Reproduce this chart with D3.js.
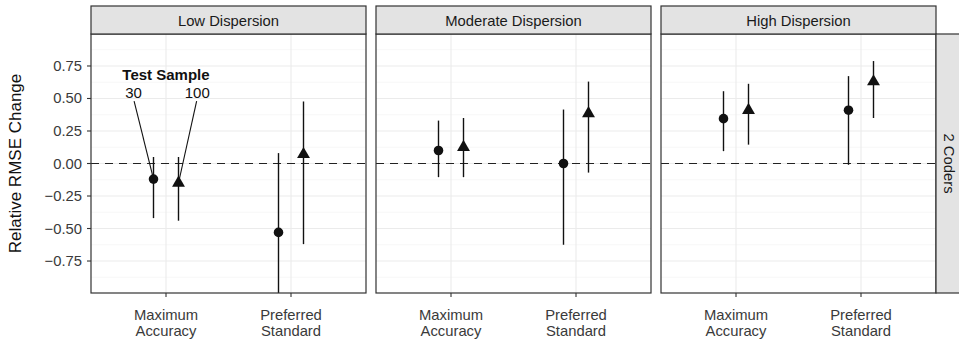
<!DOCTYPE html>
<html>
<head>
<meta charset="utf-8">
<script src="https://cdnjs.cloudflare.com/ajax/libs/d3/7.8.5/d3.min.js"></script>
<style>
  body { margin: 0; background: #fff; }
  text { font-family: "Liberation Sans", Arial, sans-serif; }
</style>
</head>
<body>
<div id="chart"></div>
<script>
// facets, categories and series
const panels = ['Low Dispersion', 'Moderate Dispersion', 'High Dispersion'];
const categories = ['Maximum Accuracy', 'Preferred Standard'];
const samples = ['30', '100'];
const yTicks = [-0.75, -0.5, -0.25, 0, 0.25, 0.5, 0.75];

// estimates per panel: [MA, PS]
const est30 = [[-0.12, -0.53], [0.10, 0.00], [0.345, 0.41]];
const lo30 = [[-0.42, -1.00], [-0.105, -0.625], [0.095, -0.01]];
const hi30 = [[0.05, 0.08], [0.33, 0.415], [0.556, 0.672]];
const est100 = [[-0.15, 0.07], [0.125, 0.385], [0.41, 0.63]];
const lo100 = [[-0.44, -0.62], [-0.105, -0.07], [0.145, 0.35]];
const hi100 = [[0.05, 0.477], [0.35, 0.63], [0.613, 0.788]];

const W = 959, H = 344;
const margin = { left: 91, top: 34, bottom: 51 };
const panelW = 275, gap = 10, stripH = 28;
const plotH = H - margin.top - margin.bottom;
const fs = 14.8;

const svg = d3.select('#chart').append('svg')
  .attr('width', W).attr('height', H);

const y = d3.scaleLinear().domain([-0.996, 0.996]).range([margin.top + plotH, margin.top]);
const x = d3.scaleLinear().domain([0.4, 2.6]).range([0, panelW]);
const dodge = { '30': -0.1, '100': 0.1 };

const minor = d3.range(-0.875, 0.9, 0.25);

panels.forEach((name, p) => {
  const g = svg.append('g').attr('transform', `translate(${margin.left + p * (panelW + gap)},0)`);

  // grid
  g.selectAll('.minor').data(minor).join('line')
    .attr('x1', 0).attr('x2', panelW)
    .attr('y1', d => y(d)).attr('y2', d => y(d))
    .attr('stroke', '#f2f2f2').attr('stroke-width', 0.6);
  g.selectAll('.major').data(yTicks).join('line')
    .attr('x1', 0).attr('x2', panelW)
    .attr('y1', d => y(d)).attr('y2', d => y(d))
    .attr('stroke', '#ebebeb').attr('stroke-width', 1.1);
  g.selectAll('.vgrid').data([1, 2]).join('line')
    .attr('x1', d => x(d)).attr('x2', d => x(d))
    .attr('y1', margin.top).attr('y2', margin.top + plotH)
    .attr('stroke', '#ebebeb').attr('stroke-width', 1.1);

  // reference line
  g.append('line')
    .attr('x1', 0).attr('x2', panelW)
    .attr('y1', y(0)).attr('y2', y(0))
    .attr('stroke', '#222').attr('stroke-width', 1.1)
    .attr('stroke-dasharray', '8,6');

  // error bars and points
  const rows = [];
  categories.forEach((c, i) => {
    rows.push({ s: '30', i, e: est30[p][i], lo: lo30[p][i], hi: hi30[p][i] });
    rows.push({ s: '100', i, e: est100[p][i], lo: lo100[p][i], hi: hi100[p][i] });
  });
  const clip = v => Math.max(y.domain()[0], v);
  g.selectAll('.err').data(rows).join('line')
    .attr('x1', d => x(d.i + 1 + dodge[d.s])).attr('x2', d => x(d.i + 1 + dodge[d.s]))
    .attr('y1', d => y(clip(d.lo))).attr('y2', d => y(d.hi))
    .attr('stroke', '#111').attr('stroke-width', 1.4);
  g.selectAll('.pt').data(rows).join('path')
    .attr('transform', d => `translate(${x(d.i + 1 + dodge[d.s])},${y(d.e)})`)
    .attr('d', d => d.s === '30'
      ? d3.symbol(d3.symbolCircle, 72)()
      : d3.symbol(d3.symbolTriangle, 72)())
    .attr('fill', '#111');

  // panel border
  g.append('rect')
    .attr('x', 0).attr('y', margin.top).attr('width', panelW).attr('height', plotH)
    .attr('fill', 'none').attr('stroke', '#333').attr('stroke-width', 1.2);

  // strip
  g.append('rect')
    .attr('x', 0).attr('y', margin.top - stripH).attr('width', panelW).attr('height', stripH)
    .attr('fill', '#e3e3e3').attr('stroke', '#333').attr('stroke-width', 1.2);
  g.append('text')
    .attr('x', panelW / 2).attr('y', margin.top - stripH / 2 + 5.5)
    .attr('text-anchor', 'middle').attr('font-size', fs).attr('fill', '#1a1a1a')
    .text(name);

  // x axis
  const xa = g.append('g').attr('transform', `translate(0,${margin.top + plotH})`);
  categories.forEach((c, i) => {
    xa.append('line').attr('x1', x(i + 1)).attr('x2', x(i + 1))
      .attr('y1', 0).attr('y2', 4).attr('stroke', '#333').attr('stroke-width', 1.1);
    const words = c.split(' ');
    words.forEach((w, k) => {
      xa.append('text').attr('x', x(i + 1)).attr('y', 27 + k * 16)
        .attr('text-anchor', 'middle').attr('font-size', fs).attr('fill', '#3a3a3a')
        .text(w);
    });
  });

  if (p === 0) {
    // y axis
    const ya = g.append('g');
    yTicks.forEach(t => {
      ya.append('line').attr('x1', -4).attr('x2', 0)
        .attr('y1', y(t)).attr('y2', y(t)).attr('stroke', '#333').attr('stroke-width', 1.1);
      ya.append('text').attr('x', -9).attr('y', y(t) + 5)
        .attr('text-anchor', 'end').attr('font-size', fs).attr('fill', '#3a3a3a')
        .text(d3.format('.2f')(t).replace('-', '\u2212'));
    });

    // annotation
    const lbl = [{ t: '30', xv: 0.74, yv: 0.5, s: '30', tx: 0.745, ty: 0.48 },
                 { t: '100', xv: 1.25, yv: 0.5, s: '100', tx: 1.245, ty: 0.48 }];
    g.append('text').attr('x', x(1)).attr('y', y(0.645))
      .attr('text-anchor', 'middle').attr('font-size', 15).attr('font-weight', 'bold')
      .attr('fill', '#111').text('Test Sample');
    lbl.forEach(l => {
      g.append('text').attr('x', x(l.xv)).attr('y', y(l.yv))
        .attr('text-anchor', 'middle').attr('font-size', 15).attr('fill', '#111').text(l.t);
      const pt = rows.find(r => r.i === 0 && r.s === l.s);
      g.append('line')
        .attr('x1', x(l.tx)).attr('y1', y(l.ty))
        .attr('x2', x(1 + dodge[l.s])).attr('y2', y(pt.e))
        .attr('stroke', '#111').attr('stroke-width', 1.1);
    });
  }
});

// right strip
const rx = margin.left + 3 * panelW + 2 * gap;
svg.append('rect').attr('x', rx).attr('y', margin.top).attr('width', 24).attr('height', plotH)
  .attr('fill', '#e3e3e3').attr('stroke', '#333').attr('stroke-width', 1.2);
svg.append('text')
  .attr('transform', `translate(${rx + 8},${margin.top + plotH / 2}) rotate(90)`)
  .attr('text-anchor', 'middle').attr('font-size', fs).attr('fill', '#1a1a1a')
  .text('2 Coders');

// y title
svg.append('text')
  .attr('transform', `translate(21,${margin.top + plotH / 2}) rotate(-90)`)
  .attr('text-anchor', 'middle').attr('font-size', 17).attr('fill', '#111')
  .text('Relative RMSE Change');
</script>
</body>
</html>
